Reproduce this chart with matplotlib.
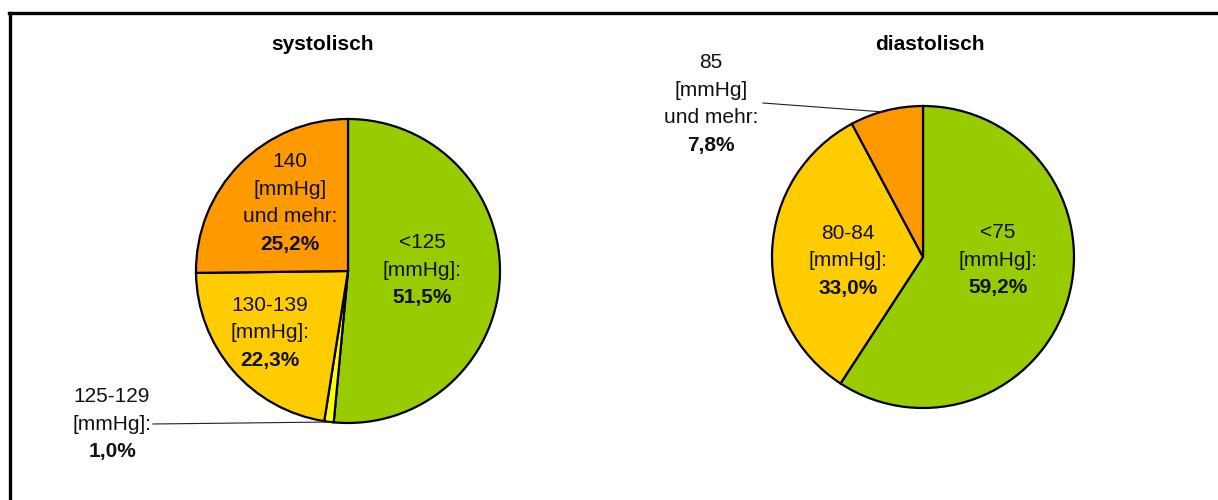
import matplotlib
matplotlib.use("Agg")
import matplotlib.pyplot as plt
from matplotlib.lines import Line2D

plt.rcParams["font.family"] = ["Liberation Sans", "DejaVu Sans"]

# Blutdruckverteilung (Anteile in %)
sys_labels = ["<125\n[mmHg]:", "125-129\n[mmHg]:", "130-139\n[mmHg]:", "140\n[mmHg]\nund mehr:"]
sys_values = [51.5, 1.0, 22.3, 25.2]
dia_labels = ["<75\n[mmHg]:", "80-84\n[mmHg]:", "85\n[mmHg]\nund mehr:"]
dia_values = [59.2, 33.0, 7.8]

sys_colors = ["#99CC00", "#FFFF00", "#FFCC00", "#FF9900"]
dia_colors = ["#99CC00", "#FFCC00", "#FF9900"]

W, H = 1218, 500
FS = 15


def fmt(v):
    return f"{v:.1f}%".replace(".", ",")


def label(ax, x, y, name, value, step=27.5):
    # category lines in regular weight, percentage in bold underneath
    lines = name.split("\n")
    n = len(lines) + 1
    top = y + (n - 1) * step / 2
    for i, line in enumerate(lines):
        ax.text(x, top - i * step, line, ha="center", va="center",
                fontsize=FS, color="#111111")
    ax.text(x, top - len(lines) * step, fmt(value), ha="center", va="center",
            fontsize=FS, fontweight="bold", color="#111111")


fig = plt.figure(figsize=(W / 100, H / 100), dpi=100)
ax = fig.add_axes([0, 0, 1, 1])

wedge_kw = dict(edgecolor="black", linewidth=1.6)
ax.pie(sys_values, colors=sys_colors, center=(348, H - 271), radius=152,
       startangle=90, counterclock=False, wedgeprops=wedge_kw, frame=True)
ax.pie(dia_values, colors=dia_colors, center=(923, H - 257), radius=151,
       startangle=90, counterclock=False, wedgeprops=wedge_kw, frame=True)
ax.set_xlim(0, W)
ax.set_ylim(0, H)
ax.set_aspect("equal")
ax.axis("off")

ax.text(323, H - 45, "systolisch", ha="center", va="center", fontsize=FS, fontweight="bold")
ax.text(930, H - 45, "diastolisch", ha="center", va="center", fontsize=FS, fontweight="bold")

label(ax, 422, H - 270, sys_labels[0], sys_values[0])
label(ax, 112, H - 424, sys_labels[1], sys_values[1])
label(ax, 270, H - 333, sys_labels[2], sys_values[2])
label(ax, 290, H - 203, sys_labels[3], sys_values[3])

label(ax, 998, H - 260, dia_labels[0], dia_values[0])
label(ax, 848, H - 261, dia_labels[1], dia_values[1])
label(ax, 711, H - 104, dia_labels[2], dia_values[2])

# leader lines for the small slices
ax.plot([153, 330], [H - 424, H - 422], color="#222222", lw=0.8)
ax.plot([763, 884], [H - 103, H - 112], color="#222222", lw=0.8)

# outer frame (top and left edge)
fig.add_artist(Line2D([9 / W, 1], [1 - 13 / H, 1 - 13 / H], transform=fig.transFigure,
                      color="black", lw=2.4))
fig.add_artist(Line2D([10 / W, 10 / W], [0, 1 - 13 / H], transform=fig.transFigure,
                      color="black", lw=2.4))

fig.savefig("out.png", dpi=100)
